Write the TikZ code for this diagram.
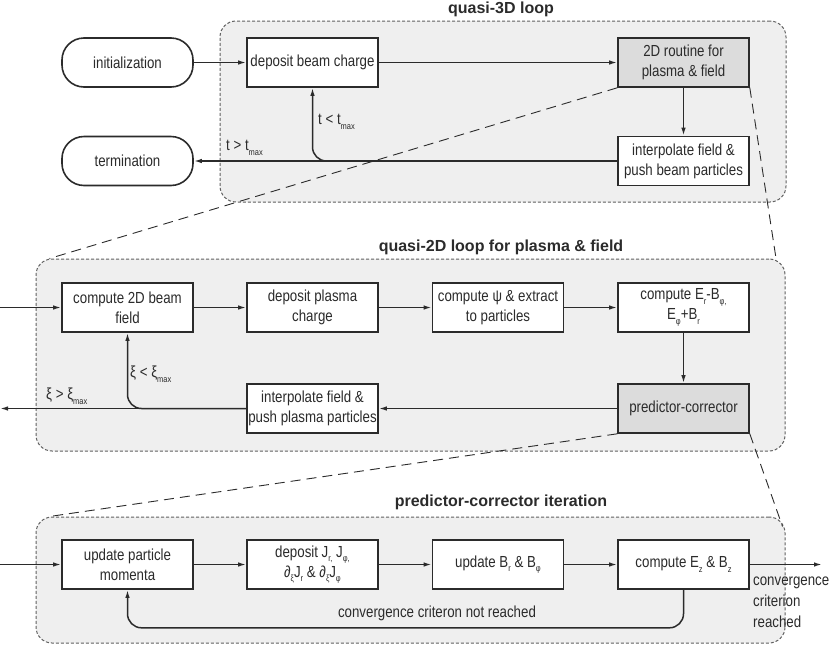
\documentclass[tikz,border=0pt]{standalone}
\usepackage{fontspec}
\setmainfont{Liberation Sans}[FakeStretch=0.83]
\newfontfamily\titlefont{Liberation Sans}
\usetikzlibrary{arrows.meta,calc}
\definecolor{ln}{HTML}{2B2B2B}
\definecolor{grpfill}{HTML}{EFEFEF}
\definecolor{grpdraw}{HTML}{606060}
\definecolor{hl}{HTML}{DCDCDC}
\newcommand\sbs[1]{\raisebox{-4.5pt}{\fontsize{9}{9}\selectfont #1}}
\begin{document}
\begin{tikzpicture}[x=1pt,y=-1pt,
  font=\fontsize{16}{20}\selectfont,
  box/.style={draw=ln, line width=1.6pt, fill=white, minimum width=131pt, minimum height=49pt, align=center, inner sep=1pt, text=ln},
  hbox/.style={box, fill=hl},
  termbox/.style={box, rounded corners=22pt},
  conn/.style={draw=ln, line width=1.5pt, -{Latex[length=8pt,width=4.5pt]}},
  grp/.style={draw=grpdraw, fill=grpfill, line width=1pt, dash pattern=on 3pt off 2pt, rounded corners=16pt, inner sep=0pt},
  zoomline/.style={draw=ln, line width=0.9pt, dash pattern=on 10pt off 6pt},
  ttl/.style={font=\titlefont\fontsize{16}{18}\selectfont\bfseries, text=ln, inner sep=0pt},
  lbl/.style={inner sep=0pt, anchor=west, text=ln}]
\useasboundingbox (0,0) rectangle (831,646);

% groups
\node[grp, minimum width=566pt, minimum height=181pt] (g1) at (503,111.5) {};
\node[grp, minimum width=749pt, minimum height=192pt] (g2) at (410.5,355) {};
\node[grp, minimum width=749pt, minimum height=126pt] (g3) at (410.5,580) {};

\node[ttl] (t1) at (501,9) {quasi-3D loop};
\node[ttl] (t2) at (501,247) {quasi-2D loop for plasma \& field};
\node[ttl] (t3) at (501,502) {predictor-corrector iteration};

% top row
\node[termbox] (init) at (127.5,62.5) {initialization};
\node[termbox] (term) at (127.5,161) {termination};
\node[box] (dep) at (312.5,62.5) {deposit beam charge};
\node[hbox] (r2d) at (683.5,62.5) {2D routine for\\plasma \& field};
\node[box] (ipb) at (683.5,161) {interpolate field \&\\push beam particles};

% middle
\node[box] (c2d) at (127.5,307.5) {compute 2D beam\\field};
\node[box] (dpc) at (312.5,307.5) {deposit plasma\\charge};
\node[box] (psi) at (498,307.5) {compute ψ \& extract\\to particles};
\node[box] (ceb) at (683.5,307.5) {compute E\sbs{r}-B\sbs{φ,}\\E\sbs{φ}+B\sbs{r}};
\node[hbox] (pc) at (683.5,408.5) {predictor-corrector};
\node[box] (ipp) at (312.5,408.5) {interpolate field \&\\push plasma particles};

% bottom
\node[box] (upm) at (127.5,564.5) {update particle\\momenta};
\node[box] (dj) at (312.5,564.5) {deposit J\sbs{r,} J\sbs{φ,}\\∂\sbs{ξ}J\sbs{r} \& ∂\sbs{ξ}J\sbs{φ}};
\node[box] (ub) at (498,564.5) {update B\sbs{r} \& B\sbs{φ}};
\node[box] (ez) at (683.5,564.5) {compute E\sbs{z} \& B\sbs{z}};

% zoom lines
\draw[zoomline] (r2d.south west) -- ($(g2.north west)+(14,0)$);
\draw[zoomline] (r2d.south east) -- ($(g2.north east)+(-9,3)$);
\draw[zoomline] (pc.south west) -- ($(g3.north west)+(14,0)$);
\draw[zoomline] (pc.south east) -- ($(g3.north east)+(-3,10)$);

% top connectors
\draw[conn] (init) -- (dep);
\draw[conn] (dep) -- (r2d);
\draw[conn] (r2d) -- (ipb);
\draw[conn] (ipb.west) -- (term.east);
\draw[conn, rounded corners=14pt] (ipb.west) -| (dep.south);
\node[lbl] (tlt) at (318,122) {t < t\sbs{max}};
\node[lbl] (tgt) at (226,148) {t > t\sbs{max}};

% middle connectors
\coordinate (inM) at (0,307.5);
\coordinate (outM) at (0,408.5);
\draw[conn] (inM) -- (c2d);
\draw[conn] (c2d) -- (dpc);
\draw[conn] (dpc) -- (psi);
\draw[conn] (psi) -- (ceb);
\draw[conn] (ceb) -- (pc);
\draw[conn] (pc) -- (ipp);
\draw[conn] (ipp.west) -- (outM);
\draw[conn, rounded corners=14pt] (ipp.west) -| (c2d.south);
\node[lbl] (xlt) at (130,374) {ξ < ξ\sbs{max}};
\node[lbl] (xgt) at (46,396) {ξ > ξ\sbs{max}};

% bottom connectors
\coordinate (inB) at (0,564.5);
\coordinate (outB) at (822,564.5);
\draw[conn] (inB) -- (upm);
\draw[conn] (upm) -- (dj);
\draw[conn] (dj) -- (ub);
\draw[conn] (ub) -- (ez);
\draw[conn] (ez) -- (outB);
\draw[conn, rounded corners=14pt] (ez.south) -- ++(0,38) -| (upm.south);
\node[text=ln, inner sep=0pt] (nr) at (437,613) {convergence criteron not reached};
\node[lbl, anchor=north west, align=left, font=\fontsize{16}{21}\selectfont] (cr) at (753,577) {convergence\\criterion\\reached};
\end{tikzpicture}
\end{document}
